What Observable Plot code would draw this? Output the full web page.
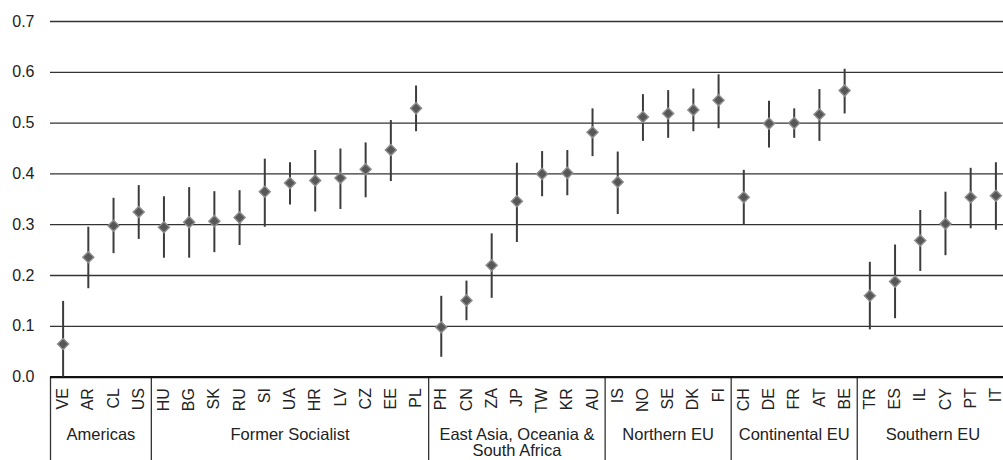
<!DOCTYPE html>
<html>
<head>
<meta charset="utf-8">
<script src="https://cdn.jsdelivr.net/npm/d3@7"></script>
<script src="https://cdn.jsdelivr.net/npm/@observablehq/plot@0.6"></script>
<style>
  html, body { margin: 0; padding: 0; background: #fff; }
  #chart { width: 1003px; height: 460px; overflow: hidden; }
</style>
</head>
<body>
<div id="chart"></div>
<script>
const countries = ["VE","AR","CL","US","HU","BG","SK","RU","SI","UA","HR","LV","CZ","EE","PL","PH","CN","ZA","JP","TW","KR","AU","IS","NO","SE","DK","FI","CH","DE","FR","AT","BE","TR","ES","IL","CY","PT","IT"];
const estimates = [0.065,0.236,0.298,0.325,0.295,0.305,0.307,0.314,0.365,0.382,0.387,0.392,0.409,0.447,0.529,0.098,0.151,0.220,0.346,0.400,0.402,0.482,0.384,0.512,0.519,0.526,0.545,0.354,0.499,0.500,0.517,0.564,0.160,0.188,0.269,0.302,0.354,0.357];
const lower = [0.000,0.174,0.243,0.271,0.234,0.234,0.245,0.259,0.295,0.339,0.325,0.330,0.353,0.385,0.483,0.039,0.111,0.155,0.265,0.355,0.357,0.434,0.320,0.464,0.470,0.483,0.489,0.300,0.451,0.470,0.464,0.518,0.093,0.115,0.208,0.239,0.292,0.289];
const upper = [0.149,0.295,0.352,0.377,0.355,0.373,0.365,0.367,0.429,0.422,0.446,0.449,0.461,0.505,0.573,0.159,0.189,0.282,0.421,0.444,0.446,0.528,0.443,0.556,0.564,0.567,0.595,0.407,0.543,0.528,0.566,0.606,0.226,0.260,0.328,0.364,0.411,0.422];
const groupNames = ["Americas","Former Socialist","East Asia, Oceania &\nSouth Africa","Northern EU","Continental EU","Southern EU"];
const groupSizes = [4,11,7,5,5,6];
const yTicks = [0,0.1,0.2,0.3,0.4,0.5,0.6,0.7];

const data = countries.map((c, i) => ({country: c, est: estimates[i], lo: lower[i], hi: upper[i]}));
let start = 0;
const groups = groupNames.map((name, i) => {
  const g = {name, first: countries[start], size: groupSizes[i]};
  start += groupSizes[i];
  return g;
});

const xRange = [50, 1008];
const bw = (xRange[1] - xRange[0]) / countries.length;
const yBelow = -0.165; // bottom of group separators (below axis)

const chart = Plot.plot({
  width: 1003,
  height: 460,
  marginTop: 21,
  marginBottom: 83.4,
  marginLeft: 50,
  marginRight: 0,
  style: {fontFamily: "'Liberation Sans', Arial, sans-serif", fontSize: "16px", color: "#222", background: "#fff", overflow: "hidden"},
  x: {type: "band", domain: countries, range: xRange, padding: 0, round: false, axis: "bottom", tickRotate: -90, tickSize: 0, tickPadding: 11, label: null},
  y: {domain: [0, 0.7], ticks: yTicks, tickFormat: ".1f", tickSize: 0, tickPadding: 16, label: null},
  marks: [
    Plot.ruleY(yTicks.filter(d => d > 0), {stroke: "#333", strokeWidth: 1.3}),
    Plot.ruleX(groups, {x: "first", dx: -bw / 2, y1: 0, y2: yBelow, stroke: "#333", strokeWidth: 1.3}),
    Plot.ruleY([0], {stroke: "#111", strokeWidth: 2.2}),
    Plot.ruleX(data, {x: "country", y1: "lo", y2: "hi", stroke: "#3c3c3c", strokeWidth: 2}),
    Plot.dot(data, {x: "country", y: "est", symbol: "diamond2", r: 5, fill: "#575757", stroke: "#8f8f8f", strokeWidth: 1.4}),
    ...groups.map(g => Plot.text([g], {x: "first", dx: (g.size - 1) / 2 * bw, y: 0, dy: 51, text: "name", lineAnchor: "top", lineHeight: 1.0, fontSize: 16.5, fill: "#222"}))
  ]
});
document.getElementById("chart").appendChild(chart);
</script>
</body>
</html>
